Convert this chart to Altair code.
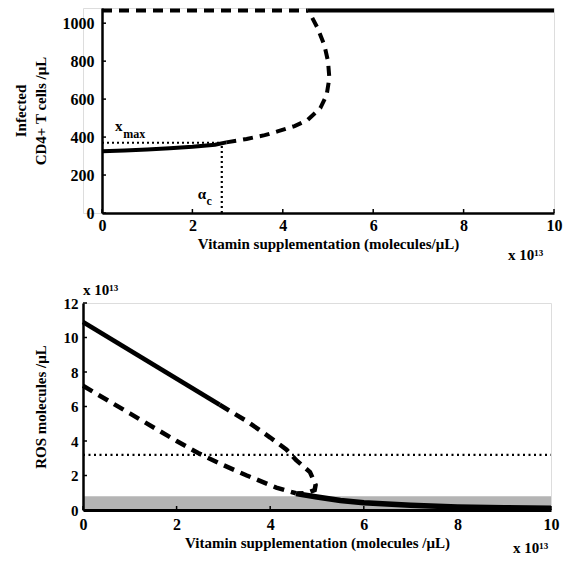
import altair as alt
import pandas as pd

FONT = "Liberation Serif"

# ---------------- top panel data ----------------
top_x_ticks = [0, 2, 4, 6, 8, 10]
top_y_ticks = [0, 200, 400, 600, 800, 1000]
low_stable_x = [0, 0.5, 1.0, 1.5, 2.0, 2.5, 2.75]
low_stable_y = [325, 329, 334, 341, 349, 360, 372]
mid_unstable_x = [2.75, 3.2, 3.6, 3.9, 4.26, 4.55, 4.83, 4.97, 5.03, 5.0, 4.92, 4.77, 4.62, 4.55]
mid_unstable_y = [372, 390, 410, 431, 458, 490, 553, 621, 711, 800, 884, 974, 1042, 1067]
high_unstable_x = [0, 4.55]
high_unstable_y = [1067, 1067]
high_stable_x = [4.55, 10]
high_stable_y = [1067, 1067]
x_max = 370
alpha_c = 2.65

# ---------------- bottom panel data ----------------
bot_x_ticks = [0, 2, 4, 6, 8, 10]
bot_y_ticks = [0, 2, 4, 6, 8, 10, 12]
upper_stable_x = [0, 2.92]
upper_stable_y = [10.9, 6.1]
upper_unstable_x = [2.92, 3.5, 4.0, 4.35, 4.55, 4.85, 4.97, 4.95, 4.8, 4.6]
upper_unstable_y = [6.1, 5.15, 4.2, 3.5, 2.9, 2.2, 1.45, 1.15, 1.0, 0.95]
lower_unstable_x = [0, 1.0, 2.0, 2.46, 3.0, 3.5, 4.13, 4.55]
lower_unstable_y = [7.2, 5.6, 4.0, 3.3, 2.6, 2.0, 1.3, 0.97]
lower_stable_x = [4.55, 5.0, 5.5, 6.0, 7.0, 8.0, 9.0, 10.0]
lower_stable_y = [0.95, 0.75, 0.55, 0.42, 0.27, 0.18, 0.13, 0.1]
ros_threshold = 3.2
band_low, band_high = 0.0, 0.8

exp_label = "x 10\u00b9\u00b3"

SHIFT = 19  # top panel starts this many pixels right of the bottom panel


def frame(name, xs, ys):
    return pd.DataFrame({"s": name, "x": xs, "y": ys, "i": list(range(len(xs)))})


common_axis = dict(grid=False, ticks=False, tickSize=0, domainColor="black",
                   labelFont=FONT, labelFontWeight="bold", labelColor="black",
                   labelFlush=False, labelOverlap=False, titleFont=FONT, format="d",
                   titleFontWeight="bold", titleColor="black", zindex=1)

# ---------------- top panel ----------------
TOP_W = 452 + SHIFT
top_xs = alt.Scale(domain=[0, 10], nice=False, zero=False, range=[SHIFT, TOP_W])
top_ys = alt.Scale(domain=[0, 1080], nice=False, zero=False)
top_xaxis = alt.Axis(values=top_x_ticks, title="Vitamin supplementation (molecules/\u03bcL)",
                     labelFontSize=16, labelPadding=4, titleFontSize=15, titlePadding=3,
                     titleX=SHIFT + 226, domainWidth=2.5, **common_axis)
top_yaxis = alt.Axis(values=top_y_ticks, title=["Infected", "CD4+ T cells /\u03bcL"],
                     labelFontSize=16, labelPadding=8, minExtent=40, maxExtent=40,
                     titlePadding=14, titleFontSize=15, titleLineHeight=20, offset=-SHIFT,
                     domainWidth=2.5, **common_axis)


def TX(f="x"):
    return alt.X(f"{f}:Q", scale=top_xs, axis=top_xaxis)


def TY(f="y"):
    return alt.Y(f"{f}:Q", scale=top_ys, axis=top_yaxis)


top_solid = pd.concat([frame("low", low_stable_x, low_stable_y),
                       frame("high", high_stable_x, high_stable_y)])
top_dash = pd.concat([frame("mid", mid_unstable_x, mid_unstable_y),
                      frame("hiu", high_unstable_x, high_unstable_y)])
top_dot = pd.concat([frame("h", [0, alpha_c], [x_max, x_max]),
                     frame("v", [alpha_c, alpha_c], [0, x_max])])

t_solid = alt.Chart(top_solid).mark_line(color="black", strokeWidth=4, strokeCap="butt").encode(
    x=TX(), y=TY(), detail="s:N", order="i:Q")
t_dash = alt.Chart(top_dash).mark_line(color="black", strokeWidth=4, strokeDash=[10, 7],
                                       strokeCap="butt").encode(
    x=TX(), y=TY(), detail="s:N", order="i:Q")
t_dot = alt.Chart(top_dot).mark_line(color="black", strokeWidth=2.2, strokeDash=[2, 3]).encode(
    x=TX(), y=TY(), detail="s:N", order="i:Q")
t_ytick = alt.Chart(pd.DataFrame({"y": top_y_ticks})).mark_rule(color="black", strokeWidth=1.5).encode(
    y=TY(), x=alt.value(SHIFT), x2=alt.value(SHIFT + 4))
t_xtick = alt.Chart(pd.DataFrame({"x": top_x_ticks})).mark_rule(color="black", strokeWidth=1.5).encode(
    x=TX(), y=alt.value(205), y2=alt.value(201))
t_lab_big = alt.Chart(pd.DataFrame({"x": [0.29, 2.12], "y": [432, 74], "t": ["x", "\u03b1"]})).mark_text(
    font=FONT, fontWeight="bold", fontSize=15, align="left", baseline="alphabetic", color="black").encode(
    x=TX(), y=TY(), text="t:N")
t_lab_sub = alt.Chart(pd.DataFrame({"x": [0.47, 2.31], "y": [395, 42], "t": ["max", "c"]})).mark_text(
    font=FONT, fontWeight="bold", fontSize=12, align="left", baseline="alphabetic", color="black").encode(
    x=TX(), y=TY(), text="t:N")
t_exp = alt.Chart(pd.DataFrame({"t": [exp_label]})).mark_text(
    font=FONT, fontWeight="bold", fontSize=15, align="left", baseline="alphabetic", color="black").encode(
    x=alt.value(SHIFT + 406), y=alt.value(252), text="t:N")

top = alt.layer(t_dot, t_solid, t_dash, t_ytick, t_xtick, t_lab_big, t_lab_sub, t_exp).properties(
    width=TOP_W, height=205)

# ---------------- bottom panel ----------------
bot_xs = alt.Scale(domain=[0, 10], nice=False, zero=False)
bot_ys = alt.Scale(domain=[0, 12], nice=False, zero=False)
bot_xaxis = alt.Axis(values=bot_x_ticks, title="Vitamin supplementation (molecules /\u03bcL)",
                     labelFontSize=16, labelPadding=6, titleFontSize=15, titlePadding=3,
                     domainWidth=3, **common_axis)
bot_yaxis = alt.Axis(values=bot_y_ticks, title="ROS molecules /\u03bcL",
                     labelFontSize=15, labelPadding=5, minExtent=25, maxExtent=25,
                     titlePadding=10, titleFontSize=15,
                     domainWidth=2.5, **common_axis)


def BX(f="x"):
    return alt.X(f"{f}:Q", scale=bot_xs, axis=bot_xaxis)


def BY(f="y"):
    return alt.Y(f"{f}:Q", scale=bot_ys, axis=bot_yaxis)


bot_solid = frame("us", upper_stable_x, upper_stable_y)
bot_solid_low = frame("ls", lower_stable_x, lower_stable_y)
bot_dash = pd.concat([frame("uu", upper_unstable_x, upper_unstable_y),
                      frame("lu", lower_unstable_x, lower_unstable_y)])

b_band = alt.Chart(pd.DataFrame({"x": [0], "x2": [10], "y": [band_low], "y2": [band_high]})).mark_rect(
    color="#b4b4b4").encode(x=BX(), x2="x2:Q", y=BY(), y2="y2:Q")
b_thr = alt.Chart(pd.DataFrame({"x": [0, 10], "y": [ros_threshold, ros_threshold]})).mark_line(
    color="black", strokeWidth=2.2, strokeDash=[2, 3.5]).encode(x=BX(), y=BY())
b_solid = alt.Chart(bot_solid).mark_line(color="black", strokeWidth=4.5, strokeCap="butt").encode(
    x=BX(), y=BY(), order="i:Q")
b_solid_low = alt.Chart(bot_solid_low).mark_line(color="black", strokeWidth=5.5, strokeCap="butt").encode(
    x=BX(), y=BY(), order="i:Q")
b_dash = alt.Chart(bot_dash).mark_line(color="black", strokeWidth=4.5, strokeDash=[11, 7],
                                       strokeCap="butt").encode(
    x=BX(), y=BY(), detail="s:N", order="i:Q")
b_ytick = alt.Chart(pd.DataFrame({"y": bot_y_ticks})).mark_rule(color="black", strokeWidth=1.5).encode(
    y=BY(), x=alt.value(0), x2=alt.value(4))
b_xtick = alt.Chart(pd.DataFrame({"x": bot_x_ticks})).mark_rule(color="black", strokeWidth=1.5).encode(
    x=BX(), y=alt.value(207), y2=alt.value(203))
b_exp = alt.Chart(pd.DataFrame({"t": [exp_label, exp_label], "px": [0, 430], "py": [-8, 250]})).mark_text(
    font=FONT, fontWeight="bold", fontSize=15, align="left", baseline="alphabetic", color="black").encode(
    x=alt.X("px:Q", scale=None), y=alt.Y("py:Q", scale=None), text="t:N")

bottom = alt.layer(b_band, b_thr, b_dash, b_solid, b_solid_low, b_ytick, b_xtick, b_exp).properties(
    width=468, height=207)

chart = alt.vconcat(top, bottom, spacing=18).properties(
    padding={"left": 12, "top": 1, "right": 0, "bottom": 0}
).configure_view(stroke=None).configure(background="white")

chart.save("out.html", embed_options={"renderer": "svg", "actions": False})
